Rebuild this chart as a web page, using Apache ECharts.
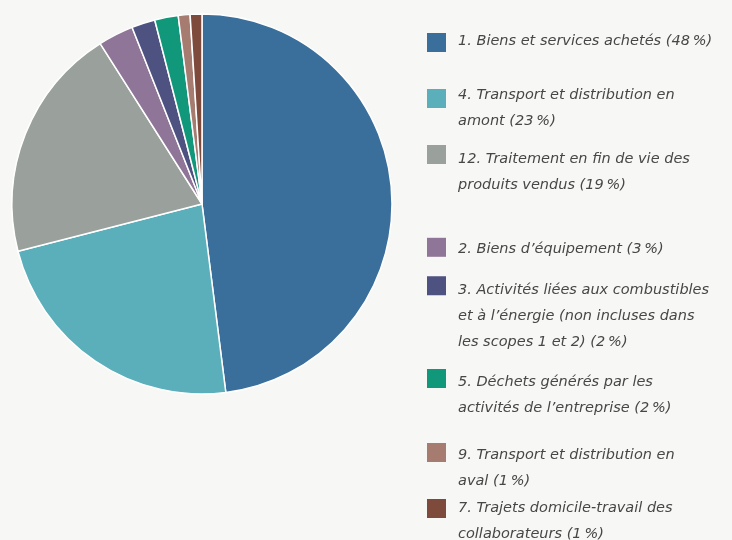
<!DOCTYPE html>
<html>
<head>
<meta charset="utf-8">
<script src="https://cdn.jsdelivr.net/npm/echarts@6/dist/echarts.min.js"></script>
<style>
  html, body { margin: 0; padding: 0; background: #f7f7f5; }
  #chart { width: 732px; height: 540px; }
</style>
</head>
<body>
<div id="chart"></div>
<script>
var names = [
    '1. Biens et services achetés (48\u202f%)',
    '4. Transport et distribution en amont (23\u202f%)',
    '12. Traitement en fin de vie des produits vendus (19\u202f%)',
    '2. Biens d\u2019équipement (3\u202f%)',
    '3. Activités liées aux combustibles et à l\u2019énergie (non incluses dans les scopes 1 et 2) (2\u202f%)',
    '5. Déchets générés par les activités de l\u2019entreprise (2\u202f%)',
    '9. Transport et distribution en aval (1\u202f%)',
    '7. Trajets domicile-travail des collaborateurs (1\u202f%)'
];
var values = [48, 23, 20, 3, 2, 2, 1, 1];
var colors = ['#3a6e9b', '#5aafbb', '#9aa09b', '#8f7598', '#4e5281', '#11977a', '#a77c70', '#7e4a3c'];
var legendLines = [
    ['1. Biens et services achetés (48\u202f%)'],
    ['4. Transport et distribution en', 'amont (23\u202f%)'],
    ['12. Traitement en fin de vie des', 'produits vendus (19\u202f%)'],
    ['2. Biens d\u2019équipement (3\u202f%)'],
    ['3. Activités liées aux combustibles', 'et à l\u2019énergie (non incluses dans', 'les scopes 1 et 2) (2\u202f%)'],
    ['5. Déchets générés par les', 'activités de l\u2019entreprise (2\u202f%)'],
    ['9. Transport et distribution en', 'aval (1\u202f%)'],
    ['7. Trajets domicile-travail des', 'collaborateurs (1\u202f%)']
];

// centre vertical de chaque carré, et décalage de la ligne de base du texte par rapport à lui
var squareY = [42.5, 98.5, 154.5, 247.3, 285.8, 378.5, 452.5, 508.5];
var textShift = [3.5, 1.5, 9.5, 6.7, 9.5, 8.8, 8.2, 4.8];
var lineH = 26;
var extra = 4;

var legends = names.map(function (name, i) {
    var n = legendLines[i].length;
    var h = n * lineH + 2 * extra;
    var s = extra + 8.5 - textShift[i];
    // carré dans une icône haute : le texte reste centré sur l'icône entière
    var icon = 'path://M0,0 M0,' + s + ' h19 v19 h-19 z M19,' + h;
    return {
        orient: 'vertical',
        left: 427,
        top: squareY[i] - 9.5 - s,
        padding: 0,
        itemWidth: 19,
        itemHeight: h,
        icon: icon,
        selectedMode: false,
        data: [name],
        itemStyle: { borderWidth: 0 },
        formatter: function () {
            return legendLines[i].join('\n');
        },
        textStyle: {
            fontFamily: 'DejaVu Sans',
            fontStyle: 'italic',
            fontSize: 14.5,
            color: '#474747',
            lineHeight: lineH,
            padding: [0, 0, 0, 7]
        }
    };
});

var chart = echarts.init(document.getElementById('chart'));
chart.setOption({
    backgroundColor: '#f7f7f5',
    animation: false,
    color: colors,
    legend: legends,
    series: [{
        type: 'pie',
        center: [202, 204],
        radius: 190,
        startAngle: 90,
        clockwise: true,
        label: { show: false },
        labelLine: { show: false },
        emphasis: { disabled: true },
        itemStyle: { borderColor: '#ffffff', borderWidth: 1.5 },
        data: names.map(function (name, i) {
            return { name: name, value: values[i] };
        })
    }]
});
</script>
</body>
</html>
